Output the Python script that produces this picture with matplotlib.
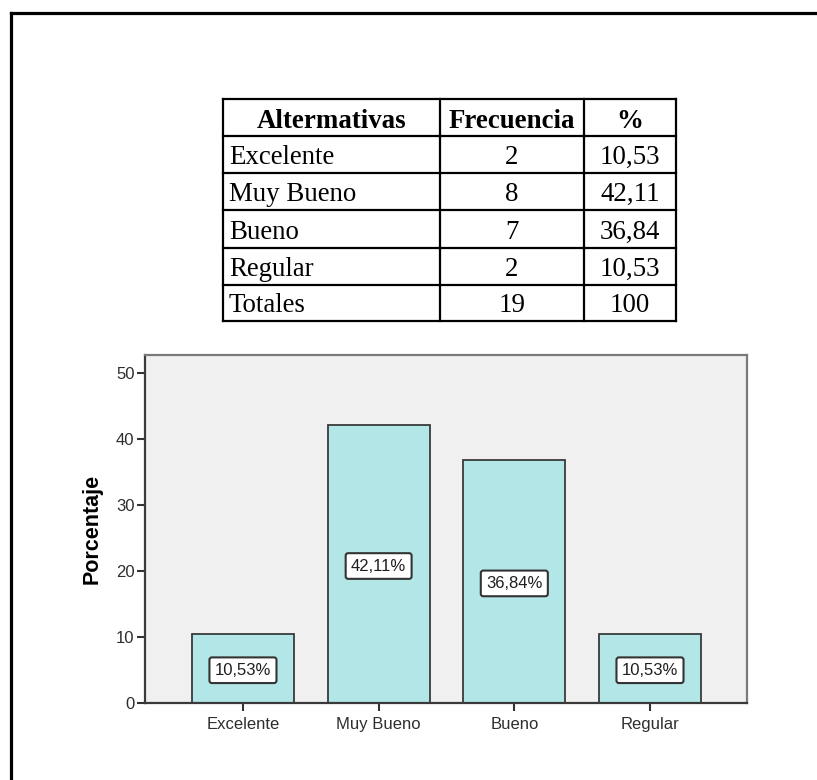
import matplotlib
matplotlib.use("Agg")
import matplotlib.pyplot as plt

# ---- data ----
categorias = ["Excelente", "Muy Bueno", "Bueno", "Regular"]
frecuencia = [2, 8, 7, 2]
porcentaje = [10.53, 42.11, 36.84, 10.53]
total_label = "Totales"
total_frecuencia = 19
total_porcentaje = "100"
encabezados = ["Altermativas", "Frecuencia", "%"]
y_ticks = [0, 10, 20, 30, 40, 50]

def fmt(v):
    return f"{v:.2f}".replace(".", ",")

W, H = 817, 780
fig = plt.figure(figsize=(W / 100, H / 100), dpi=100)
fig.patch.set_facecolor("white")

# ---- overlay in pixel coordinates (frame + table) ----
ov = fig.add_axes([0, 0, 1, 1])
ov.set_xlim(0, W)
ov.set_ylim(H, 0)
ov.axis("off")

# outer frame (left + top lines)
ov.plot([11.5, 11.5], [12.5, H + 5], color="black", lw=2.3, solid_capstyle="projecting")
ov.plot([11.5, W + 5], [12.5, 12.5], color="black", lw=2.3, solid_capstyle="projecting")

# table geometry
col_x = [223, 440, 584, 676]
row_y = [99, 136, 173, 210, 248, 285, 321]
for x in col_x:
    ov.plot([x, x], [row_y[0], row_y[-1]], color="black", lw=1.6)
for y in row_y:
    ov.plot([col_x[0], col_x[-1]], [y, y], color="black", lw=1.6)

serif = "Liberation Serif"
fs = 19.4
for i, h in enumerate(encabezados):
    cx = (col_x[i] + col_x[i + 1]) / 2
    ov.text(cx, row_y[1] - 8, h, ha="center", va="baseline",
            fontfamily=serif, fontweight="bold", fontsize=fs, color="black")

rows = [(c, str(f), fmt(p)) for c, f, p in zip(categorias, frecuencia, porcentaje)]
rows.append((total_label, str(total_frecuencia), total_porcentaje))
for r, (a, b, c) in enumerate(rows):
    yb = row_y[r + 2] - 9
    ov.text(col_x[0] + 6, yb, a, ha="left", va="baseline",
            fontfamily=serif, fontsize=fs, color="black")
    ov.text((col_x[1] + col_x[2]) / 2, yb, b, ha="center", va="baseline",
            fontfamily=serif, fontsize=fs, color="black")
    ov.text((col_x[2] + col_x[3]) / 2, yb, c, ha="center", va="baseline",
            fontfamily=serif, fontsize=fs, color="black")

# ---- bar chart ----
left_px, right_px, top_px, bot_px = 145, 747, 355, 703
ax = fig.add_axes([left_px / W, (H - bot_px) / H,
                   (right_px - left_px) / W, (bot_px - top_px) / H])
ax.set_facecolor("#f0f0f0")

x = list(range(len(categorias)))
ax.bar(x, porcentaje, width=0.752, color="#b3e6e6",
       edgecolor="#3a3a3a", linewidth=1.3, zorder=2)

ax.set_ylim(0, (bot_px - top_px) / 6.6)
ax.set_xlim(-0.722, 3.715)
ax.set_yticks(y_ticks)
ax.set_xticks(x)
ax.set_xticklabels(categorias)

sans = "Liberation Sans"
for lab in ax.get_xticklabels() + ax.get_yticklabels():
    lab.set_fontfamily(sans)
    lab.set_fontsize(12)
    lab.set_color("#2e2e2e")

ax.tick_params(axis="y", direction="out", length=6, width=1.5, pad=1.5, colors="#333333")
ax.tick_params(axis="x", direction="out", length=6, width=1.5, pad=4, colors="#333333")
for lab in ax.get_xticklabels() + ax.get_yticklabels():
    lab.set_color("#2e2e2e")

for s in ["left", "bottom"]:
    ax.spines[s].set_color("#3a3a3a")
    ax.spines[s].set_linewidth(1.6)
for s in ["top", "right"]:
    ax.spines[s].set_color("#7a7a7a")
    ax.spines[s].set_linewidth(1.6)

ax.set_ylabel("Porcentaje", fontfamily=sans, fontweight="bold", fontsize=15.5, color="black")
ax.yaxis.set_label_coords(-0.07, 0.5)

for xi, v in zip(x, porcentaje):
    ax.text(xi, v / 2 - 0.3, fmt(v) + "%", ha="center", va="center",
            fontfamily=sans, fontsize=12, color="#1e1e1e", zorder=3,
            bbox=dict(boxstyle="round,pad=0.32,rounding_size=0.15",
                      fc="white", ec="#333333", lw=1.5))

fig.savefig("out.png", dpi=100, facecolor="white")
